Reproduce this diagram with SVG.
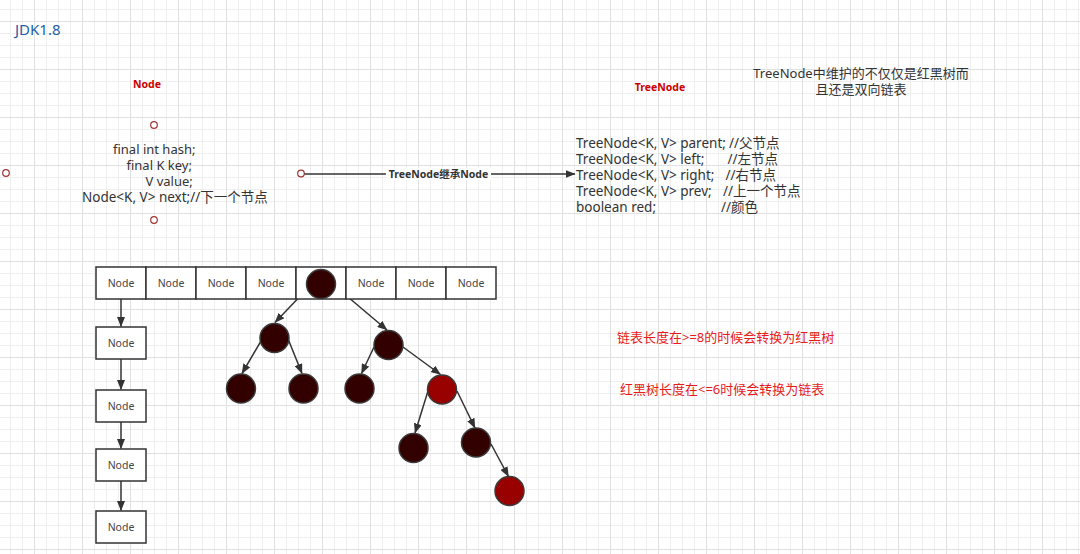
<svg xmlns="http://www.w3.org/2000/svg" width="1080" height="554" viewBox="0 0 1080 554">
<defs>
  <pattern id="grid" patternUnits="userSpaceOnUse" x="34" y="21" width="48" height="48">
    <path d="M12.5 0V48M24.5 0V48M36.5 0V48M0 12.5H48M0 24.5H48M0 36.5H48" stroke="#efefef" stroke-width="1" fill="none"/>
    <path d="M0.5 0V48M0 0.5H48" stroke="#e1e1e1" stroke-width="1" fill="none"/>
  </pattern>
  <marker id="arr" markerUnits="userSpaceOnUse" viewBox="0 0 10 8" refX="9.5" refY="4" markerWidth="10" markerHeight="8" orient="auto">
    <path d="M0,0 L10,4 L0,8 z" fill="#333"/>
  </marker>
  <style>
    .t { font-family: "Noto Sans", "Noto Sans CJK SC", sans-serif; font-size: 13px; fill: #333; }
    .w { font-size: 13.5px; }
    .red { font-family: "Noto Sans", "Noto Sans CJK SC", sans-serif; font-size: 13px; fill: #e61c1c; }
    .lbl { font-family: "Noto Sans", "Noto Sans CJK SC", sans-serif; font-size: 10.5px; font-weight: bold; fill: #cc0000; text-anchor: middle; }
    .cell { fill: #fff; stroke: #333; stroke-width: 1.5; }
    .ct { font-family: "Noto Sans", "Noto Sans CJK SC", sans-serif; font-size: 10.5px; fill: #444; text-anchor: middle; }
    .blk { fill: #330000; stroke: #3a3a3a; stroke-width: 1.5; }
    .rd { fill: #990000; stroke: #3a3a3a; stroke-width: 1.5; }
    .pt { fill: #fff; stroke: #a03434; stroke-width: 1.2; }
    .e { stroke: #333; stroke-width: 1.5; fill: none; marker-end: url(#arr); }
  </style>
</defs>
<rect width="1080" height="554" fill="#fff"/>
<rect width="1080" height="554" fill="url(#grid)"/>

<g id="title">
  <text x="15" y="35" style="font-family:'Noto Sans',sans-serif;font-size:15px;fill:#1f5fa8">JDK1.8</text>
</g>

<g id="node-class">
  <text class="lbl" x="147" y="88">Node</text>
  <circle class="pt" cx="154" cy="125" r="3.3"/>
  <circle class="pt" cx="6" cy="173" r="3.3"/>
  <circle class="pt" cx="154" cy="220" r="3.3"/>
  <text class="t" x="113" y="154">final int hash;</text>
  <text class="t" x="126.5" y="170">final K key;</text>
  <text class="t" x="145.5" y="186">V value;</text>
  <text class="t w" x="82" y="202">Node&lt;K, V&gt; next;//下一个节点</text>
</g>

<g id="treenode-class">
  <text class="lbl" x="660" y="91">TreeNode</text>
  <text class="t w" x="576" y="148">TreeNode&lt;K, V&gt; parent; <tspan x="729">//父节点</tspan></text>
  <text class="t w" x="576" y="164">TreeNode&lt;K, V&gt; left;<tspan x="727.5">//左节点</tspan></text>
  <text class="t w" x="576" y="180">TreeNode&lt;K, V&gt; right;<tspan x="725.5">//右节点</tspan></text>
  <text class="t w" x="576" y="196">TreeNode&lt;K, V&gt; prev;<tspan x="723">//上一个节点</tspan></text>
  <text class="t w" x="576" y="212">boolean red;<tspan x="721">//颜色</tspan></text>
</g>

<g id="note">
  <text class="t" x="861" y="78" text-anchor="middle">TreeNode中维护的不仅仅是红黑树而</text>
  <text class="t" x="861" y="94" text-anchor="middle">且还是双向链表</text>
</g>

<g id="rule1"><text class="red" x="617" y="341.5">链表长度在&gt;=8的时候会转换为红黑树</text></g>
<g id="rule2"><text class="red" x="620" y="393.5">红黑树长度在&lt;=6时候会转换为链表</text></g>

<g id="connectors">
  <circle class="pt" cx="301" cy="173.5" r="3.3"/>
  <path class="e" d="M304.5 174H575"/>
  <rect x="386" y="168" width="105" height="12" fill="#fff"/>
  <text x="438.5" y="178.3" text-anchor="middle" style="font-family:'Noto Sans','Noto Sans CJK SC',sans-serif;font-size:10.5px;font-weight:bold;fill:#333">TreeNode继承Node</text>

  <path class="e" d="M121 299V326.5"/>
  <path class="e" d="M121 359V389.5"/>
  <path class="e" d="M121 422V448.5"/>
  <path class="e" d="M121 481V510.5"/>

  <path class="e" d="M307 289L275 322.5"/>
  <path class="e" d="M335 286L387 330"/>
  <path class="e" d="M261 341L242 373.5"/>
  <path class="e" d="M288.5 340L302 373.5"/>
  <path class="e" d="M374 347L361.5 373.5"/>
  <path class="e" d="M403 347L440.5 374.5"/>
  <path class="e" d="M428 391L415 433"/>
  <path class="e" d="M457 391L475 428"/>
  <path class="e" d="M491 444L508.5 476.5"/>
</g>

<g id="array">
  <rect class="cell" x="96" y="267" width="50" height="32"/><text class="ct" x="121" y="287">Node</text>
  <rect class="cell" x="146" y="267" width="50" height="32"/><text class="ct" x="171" y="287">Node</text>
  <rect class="cell" x="196" y="267" width="50" height="32"/><text class="ct" x="221" y="287">Node</text>
  <rect class="cell" x="246" y="267" width="50" height="32"/><text class="ct" x="271" y="287">Node</text>
  <rect class="cell" x="296" y="267" width="50" height="32"/>
  <rect class="cell" x="346" y="267" width="50" height="32"/><text class="ct" x="371" y="287">Node</text>
  <rect class="cell" x="396" y="267" width="50" height="32"/><text class="ct" x="421" y="287">Node</text>
  <rect class="cell" x="446" y="267" width="50" height="32"/><text class="ct" x="471" y="287">Node</text>
</g>

<g id="list">
  <g id="list1"><rect class="cell" x="96" y="327" width="50" height="32"/><text class="ct" x="121" y="347">Node</text></g>
  <g id="list2"><rect class="cell" x="96" y="390" width="50" height="32"/><text class="ct" x="121" y="410">Node</text></g>
  <g id="list3"><rect class="cell" x="96" y="449" width="50" height="32"/><text class="ct" x="121" y="469">Node</text></g>
  <g id="list4"><rect class="cell" x="96" y="511" width="50" height="32"/><text class="ct" x="121" y="531">Node</text></g>
</g>

<g id="tree">
  <g id="root"><circle class="blk" cx="321" cy="284" r="14.5"/></g>
  <g id="n1"><circle class="blk" cx="274.5" cy="338" r="14.5"/></g>
  <g id="n2"><circle class="blk" cx="388.5" cy="345" r="14.5"/></g>
  <g id="n3"><circle class="blk" cx="241" cy="388.5" r="14.5"/></g>
  <g id="n4"><circle class="blk" cx="303.5" cy="388.5" r="14.5"/></g>
  <g id="n5"><circle class="blk" cx="359.5" cy="388.5" r="14.5"/></g>
  <g id="n6"><circle class="rd" cx="442" cy="389.5" r="14.5"/></g>
  <g id="n7"><circle class="blk" cx="413.5" cy="448" r="14.5"/></g>
  <g id="n8"><circle class="blk" cx="476" cy="442.5" r="14.5"/></g>
  <g id="n9"><circle class="rd" cx="509.5" cy="491" r="14.5"/></g>
</g>
</svg>
